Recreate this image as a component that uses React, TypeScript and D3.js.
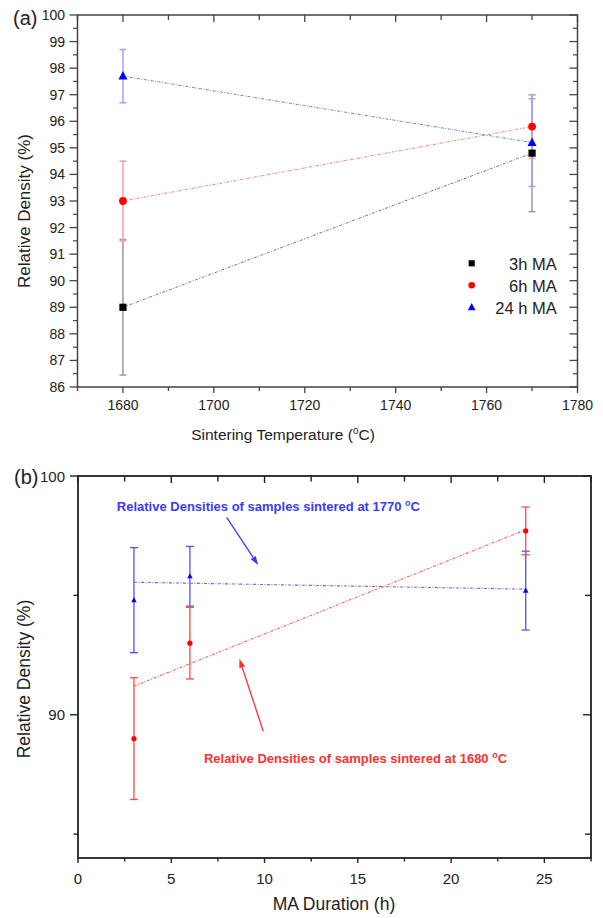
import React from "react";
import * as d3 from "d3";

// ---------- Data: panel (a) ----------
const temps = [1680, 1770];
const seriesNames = ["3h MA", "6h MA", "24 h MA"];
const density3h = [89.0, 94.8];
const err3h = [2.55, 2.2];
const density6h = [93.0, 95.8];
const err6h = [1.5, 1.2];
const density24h = [97.7, 95.2];
const err24h = [1.0, 1.65];
const yTicksA = [86, 87, 88, 89, 90, 91, 92, 93, 94, 95, 96, 97, 98, 99, 100];
const xTicksA = [1680, 1700, 1720, 1740, 1760, 1780];

// ---------- Data: panel (b) ----------
const maDurations = [3, 6, 24];
const density1770 = [94.8, 95.8, 95.2];
const err1770 = [2.2, 1.25, 1.65];
const density1680 = [89.0, 93.0, 97.7];
const err1680 = [2.55, 1.5, 1.0];
const fitX = [3, 24];
const fit1770 = [95.55, 95.26];
const fit1680 = [91.2, 97.75];
const xTicksB = [0, 5, 10, 15, 20, 25];
const yTicksB = [90, 100];

const FONT = "'Liberation Sans', Arial, Helvetica, sans-serif";

function triPath(cx: number, cy: number, s: number) {
  const h = s * 0.95;
  return `M${cx},${cy - h * 0.6}L${cx + s / 2},${cy + h * 0.4}L${cx - s / 2},${cy + h * 0.4}Z`;
}

function Arrow({ x1, y1, x2, y2, color }: any) {
  const ang = Math.atan2(y2 - y1, x2 - x1);
  const L = 9, W = 3;
  const bx = x2 - L * Math.cos(ang), by = y2 - L * Math.sin(ang);
  const px = -Math.sin(ang) * W, py = Math.cos(ang) * W;
  return (
    <g>
      <line x1={x1} y1={y1} x2={bx} y2={by} stroke={color} strokeWidth={1.3} />
      <path d={`M${x2},${y2}L${bx + px},${by + py}L${bx - px},${by - py}Z`} fill={color} />
    </g>
  );
}

export default function App() {
  // ---- Panel (a) scales ----
  const xa = d3.scaleLinear().domain([1670, 1780]).range([77.5, 577.5]);
  const ya = d3.scaleLinear().domain([86, 100]).range([387, 15]);
  // ---- Panel (b) scales ----
  const xb = d3.scaleLinear().domain([0, 27.5]).range([78, 591]);
  const yb = d3.scaleLinear().domain([84, 100]).range([858, 476]);

  const lineA = d3.line<number>().x((_, i) => xa(temps[i])).y((d) => ya(d));
  const seriesA = [
    { vals: density3h, err: err3h, line: "#7a7a7a", eb: "#9a9a9a", mk: "#000000", shape: "sq" },
    { vals: density6h, err: err6h, line: "#e08a8a", eb: "#f0a0a0", mk: "#ff0000", shape: "ci" },
    { vals: density24h, err: err24h, line: "#8080b8", eb: "#a0a0ff", mk: "#0000ff", shape: "tr" },
  ];

  const marker = (shape: string, cx: number, cy: number, color: string, k = 1, key?: any) => {
    if (shape === "sq")
      return <rect key={key} x={cx - 3.6 * k} y={cy - 3.6 * k} width={7.2 * k} height={7.2 * k} fill={color} />;
    if (shape === "ci") return <circle key={key} cx={cx} cy={cy} r={3.9 * k} fill={color} />;
    return <path key={key} d={triPath(cx, cy, 9 * k)} fill={color} />;
  };

  const minorA = d3.range(86, 100.01, 0.5).filter((v) => v % 1 !== 0);
  const xMinorA = d3.range(1670, 1781, 10);

  // ---- Panel (b) ----
  const lineB = d3.line<number>().x((_, i) => xb(fitX[i])).y((d) => yb(d));
  const seriesB = [
    { vals: density1770, err: err1770, line: "#6a6ae0", eb: "#5050ff", mk: "#0000ff", shape: "tr", fit: fit1770 },
    { vals: density1680, err: err1680, line: "#ff6060", eb: "#ff4848", mk: "#ff0000", shape: "ci", fit: fit1680 },
  ];
  const xTicksBAll = d3.range(0, 27.51, 2.5);
  const yMinorB = [85, 95];

  const frameA = "#444";
  const frameB = "#222";

  return (
    <svg
      width={603}
      height={918}
      style={{ position: "absolute", left: 0, top: 0, background: "#fff" }}
      fontFamily={FONT}
    >
      <rect x={0} y={0} width={603} height={918} fill="#fff" />
      {/* ================= Panel (a) ================= */}
      <g>
        {/* error bars */}
        {seriesA.map((s, si) =>
          s.vals.map((v, i) => {
            const x = xa(temps[i]);
            const yt = ya(v + s.err[i]);
            const yb2 = ya(v - s.err[i]);
            return (
              <g key={`eba${si}-${i}`} stroke={s.eb} strokeWidth={1.5}>
                <line x1={x} x2={x} y1={yt} y2={yb2} />
                <line x1={x - 3.5} x2={x + 3.5} y1={yt} y2={yt} />
                <line x1={x - 3.5} x2={x + 3.5} y1={yb2} y2={yb2} />
              </g>
            );
          })
        )}
        {/* lines */}
        {seriesA.map((s, si) => (
          <path
            key={`la${si}`}
            d={lineA(s.vals) || ""}
            fill="none"
            stroke={s.line}
            strokeWidth={1}
            strokeDasharray="3,1.5,1,1.5"
          />
        ))}
        {/* markers */}
        {seriesA.map((s, si) => s.vals.map((v, i) => marker(s.shape, xa(temps[i]), ya(v), s.mk, 1, `ma${si}-${i}`)))}

        {/* frame */}
        <rect x={77.5} y={15} width={500} height={372} fill="none" stroke={frameA} strokeWidth={1.5} />
        {/* y ticks left & right */}
        {yTicksA.map((t) => (
          <g key={`yta${t}`} stroke={frameA} strokeWidth={1.3}>
            <line x1={69.5} x2={77.5} y1={ya(t)} y2={ya(t)} />
            <line x1={569.5} x2={577.5} y1={ya(t)} y2={ya(t)} />
          </g>
        ))}
        {minorA.map((t) => (
          <g key={`ymia${t}`} stroke={frameA} strokeWidth={1.2}>
            <line x1={73} x2={77.5} y1={ya(t)} y2={ya(t)} />
            <line x1={577.5} x2={573} y1={ya(t)} y2={ya(t)} />
          </g>
        ))}
        {yTicksA.map((t) => (
          <text key={`ytla${t}`} x={65} y={ya(t) + 5} fontSize={14} textAnchor="end" fill="#222">
            {t}
          </text>
        ))}
        {/* x ticks */}
        {xMinorA.map((t) => {
          const major = (t - 1680) % 20 === 0;
          return (
            <g key={`xta${t}`} stroke={frameA} strokeWidth={1.3}>
              <line x1={xa(t)} x2={xa(t)} y1={387} y2={387 + (major ? 6 : 4)} />
              <line x1={xa(t)} x2={xa(t)} y1={15} y2={15 + (major ? 7 : 5)} />
            </g>
          );
        })}
        {xTicksA.map((t) => (
          <text key={`xtla${t}`} x={xa(t)} y={410} fontSize={14} textAnchor="middle" fill="#222">
            {t}
          </text>
        ))}
        {/* axis labels */}
        <text x={283} y={440} fontSize={15.5} textAnchor="middle" fill="#222">
          Sintering Temperature (<tspan dy={-6} fontSize={10}>o</tspan>
          <tspan dy={6}>C)</tspan>
        </text>
        <text transform={`translate(30,211) rotate(-90)`} fontSize={17} textAnchor="middle" fill="#222">
          Relative Density (%)
        </text>
        <text x={13} y={25} fontSize={20} fill="#222">
          (a)
        </text>
        {/* legend */}
        {seriesA.map((s, i) => (
          <g key={`lg${i}`}>
            {marker(s.shape, 471.7, 263.3 + i * 22, s.mk, 0.85)}
            <text x={556.7} y={269.5 + i * 22} fontSize={16.5} textAnchor="end" fill="#222">
              {seriesNames[i]}
            </text>
          </g>
        ))}
      </g>

      {/* ================= Panel (b) ================= */}
      <g>
        {/* error bars */}
        {seriesB.map((s, si) =>
          s.vals.map((v, i) => {
            const x = xb(maDurations[i]);
            const yt = yb(v + s.err[i]);
            const yb2 = yb(v - s.err[i]);
            return (
              <g key={`ebb${si}-${i}`} stroke={s.eb} strokeWidth={1.3}>
                <line x1={x} x2={x} y1={yt} y2={yb2} />
                <line x1={x - 4} x2={x + 4} y1={yt} y2={yt} />
                <line x1={x - 4} x2={x + 4} y1={yb2} y2={yb2} />
              </g>
            );
          })
        )}
        {/* fit lines */}
        {seriesB.map((s, si) => (
          <path
            key={`lb${si}`}
            d={lineB(s.fit) || ""}
            fill="none"
            stroke={s.line}
            strokeWidth={1.1}
            strokeDasharray="3,1.5,1,1.5"
          />
        ))}
        {/* markers */}
        {seriesB.map((s, si) =>
          s.vals.map((v, i) =>
            s.shape === "ci" ? (
              <circle key={`mb${si}-${i}`} cx={xb(maDurations[i])} cy={yb(v)} r={2.6} fill={s.mk} />
            ) : (
              <path key={`mb${si}-${i}`} d={triPath(xb(maDurations[i]), yb(v), 5.5)} fill={s.mk} />
            )
          )
        )}
        {/* frame */}
        <rect x={78} y={476} width={513} height={382} fill="none" stroke={frameB} strokeWidth={1.8} />
        {/* y ticks */}
        {yTicksB.map((t) => (
          <g key={`ytb${t}`} stroke={frameB} strokeWidth={1.4}>
            <line x1={70} x2={78} y1={yb(t)} y2={yb(t)} />
            <line x1={583} x2={591} y1={yb(t)} y2={yb(t)} />
          </g>
        ))}
        {yMinorB.map((t) => (
          <g key={`ymb${t}`} stroke={frameB} strokeWidth={1.4}>
            <line x1={73.5} x2={78} y1={yb(t)} y2={yb(t)} />
            <line x1={585} x2={591} y1={yb(t)} y2={yb(t)} />
          </g>
        ))}
        {yTicksB.map((t) => (
          <text key={`ytlb${t}`} x={65} y={yb(t) + 5.5} fontSize={15} textAnchor="end" fill="#222">
            {t}
          </text>
        ))}
        {/* x ticks */}
        {xTicksBAll.map((t) => {
          const major = t % 5 === 0;
          return (
            <g key={`xtb${t}`} stroke={frameB} strokeWidth={1.4}>
              <line x1={xb(t)} x2={xb(t)} y1={858} y2={858 + (major ? 5 : 3.5)} />
              <line x1={xb(t)} x2={xb(t)} y1={476} y2={476 + (major ? 7 : 5.5)} />
            </g>
          );
        })}
        {xTicksB.map((t) => (
          <text key={`xtlb${t}`} x={xb(t)} y={884} fontSize={15} textAnchor="middle" fill="#222">
            {t}
          </text>
        ))}
        {/* axis labels */}
        <text x={334} y={910} fontSize={17.5} textAnchor="middle" fill="#222">
          MA Duration (h)
        </text>
        <text transform={`translate(30,679) rotate(-90)`} fontSize={17.5} textAnchor="middle" fill="#222">
          Relative Density (%)
        </text>
        <text x={14} y={484} fontSize={20} fill="#222">
          (b)
        </text>
        {/* annotations */}
        <text x={xb(2.08)} y={yb(98.53)} fontSize={13} fill="#3a3aff" fontWeight={600}>
          Relative Densities of samples sintered at 1770 <tspan dy={-5} fontSize={9}>o</tspan>
          <tspan dy={5}>C</tspan>
        </text>
        <Arrow x1={xb(7.97)} y1={yb(98.27)} x2={xb(9.66)} y2={yb(96.27)} color="#3a3aff" />
        <text x={xb(6.75)} y={yb(87.96)} fontSize={13} fill="#ff3030" fontWeight={600}>
          Relative Densities of samples sintered at 1680 <tspan dy={-5} fontSize={9}>o</tspan>
          <tspan dy={5}>C</tspan>
        </text>
        <Arrow x1={xb(9.93)} y1={yb(89.31)} x2={xb(8.65)} y2={yb(92.35)} color="#ff3030" />
      </g>
    </svg>
  );
}
